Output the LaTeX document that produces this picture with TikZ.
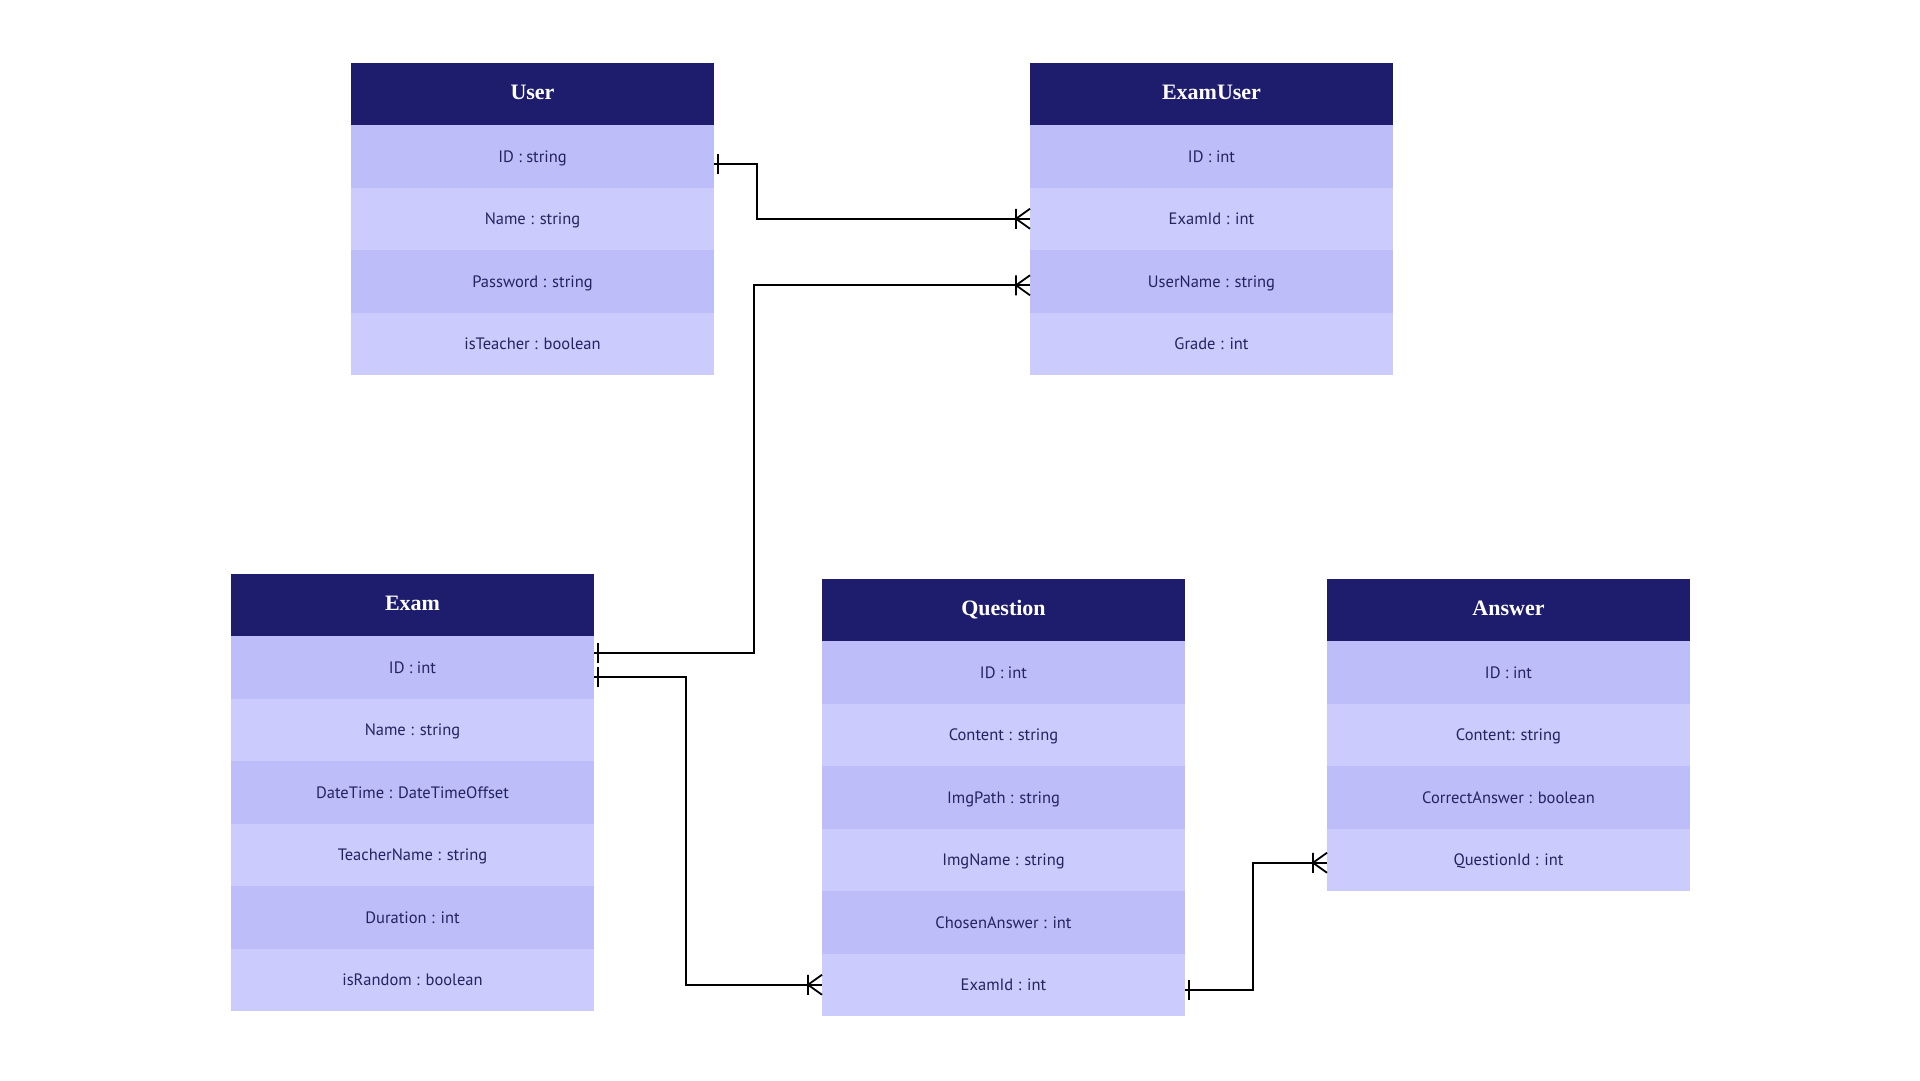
\documentclass[tikz,border=0pt]{standalone}
\usepackage{fontspec}
\setmainfont{PT Sans}
\newfontfamily\headfont{Liberation Serif}
\usetikzlibrary{calc,decorations.markings}
\definecolor{headnavy}{HTML}{1E1C6C}
\definecolor{rowdark}{HTML}{BDBDFA}
\definecolor{rowlight}{HTML}{CBCBFD}
\definecolor{fieldtext}{HTML}{25235F}
\tikzset{
    table/.style={
    rectangle,fill=headnavy,text=white,anchor=north west,
    minimum width=363pt,minimum height=62pt,inner sep=0pt,outer sep=0pt,
    text height=14pt,text depth=4pt,
    font=\headfont\bfseries\fontsize{22}{26}\selectfont
    },
    field/.style={
    rectangle,text=fieldtext,
    minimum width=363pt,minimum height=62.5pt,inner sep=0pt,outer sep=0pt,
    text height=14pt,text depth=2pt,
    font=\fontsize{16.5}{20}\selectfont
    },
    relation/.style={
    decoration={ markings,
      mark=at position 4pt with {\draw[line width=1.8pt] (0pt,-10pt) -- (0pt,10pt);},
      mark=at position 1 with {\draw[line width=1.8pt] (-14pt,-10pt) -- (-14pt,10pt)
        (0pt,10pt) -- (-14pt,0pt) -- (0pt,-10pt);}
      },
    postaction={decorate}
    },
}
\begin{document}
\begin{tikzpicture}[x=1pt,y=-1pt,line width=1.8pt]
  \fill[white] (0,0) rectangle (1920,1080);
  \useasboundingbox (0,0) rectangle (1920,1080);

  % tables
  \node[table] (user) at (351,63) {User};
  \foreach \txt/\col [count=\i] in {ID : string/rowdark, Name : string/rowlight,
      Password : string/rowdark, isTeacher : boolean/rowlight}
    \node[field,fill=\col] (user\i) at ($(user.south)+(0,{(\i-0.5)*62.5})$) {\txt};

  \node[table] (examuser) at (1030,63) {ExamUser};
  \foreach \txt/\col [count=\i] in {ID : int/rowdark, ExamId : int/rowlight,
      UserName : string/rowdark, Grade : int/rowlight}
    \node[field,fill=\col] (examuser\i) at ($(examuser.south)+(0,{(\i-0.5)*62.5})$) {\txt};

  \node[table] (exam) at (231,574) {Exam};
  \foreach \txt/\col [count=\i] in {ID : int/rowdark, Name : string/rowlight,
      DateTime : DateTimeOffset/rowdark, TeacherName : string/rowlight,
      Duration : int/rowdark, isRandom : boolean/rowlight}
    \node[field,fill=\col] (exam\i) at ($(exam.south)+(0,{(\i-0.5)*62.5})$) {\txt};

  \node[table] (question) at (822,579) {Question};
  \foreach \txt/\col [count=\i] in {ID : int/rowdark, Content : string/rowlight,
      ImgPath : string/rowdark, ImgName : string/rowlight,
      ChosenAnswer : int/rowdark, ExamId : int/rowlight}
    \node[field,fill=\col] (question\i) at ($(question.south)+(0,{(\i-0.5)*62.5})$) {\txt};

  \node[table] (answer) at (1327,579) {Answer};
  \foreach \txt/\col [count=\i] in {ID : int/rowdark, Content: string/rowlight,
      CorrectAnswer : boolean/rowdark, QuestionId : int/rowlight}
    \node[field,fill=\col] (answer\i) at ($(answer.south)+(0,{(\i-0.5)*62.5})$) {\txt};

  % relations
  \draw[relation] ([yshift=-8pt]user1.east) -- ++(43,0) |- (examuser2.west);
  \draw[relation] ([yshift=14pt]exam1.east) -- ++(160,0) |- ([yshift=-4pt]examuser3.west);
  \draw[relation] ([yshift=-10pt]exam1.east) -- ++(92,0) |- (question6.west);
  \draw[relation] ([yshift=-5pt]question6.east) -- ++(68,0) |- ([yshift=-3pt]answer4.west);
\end{tikzpicture}
\end{document}
